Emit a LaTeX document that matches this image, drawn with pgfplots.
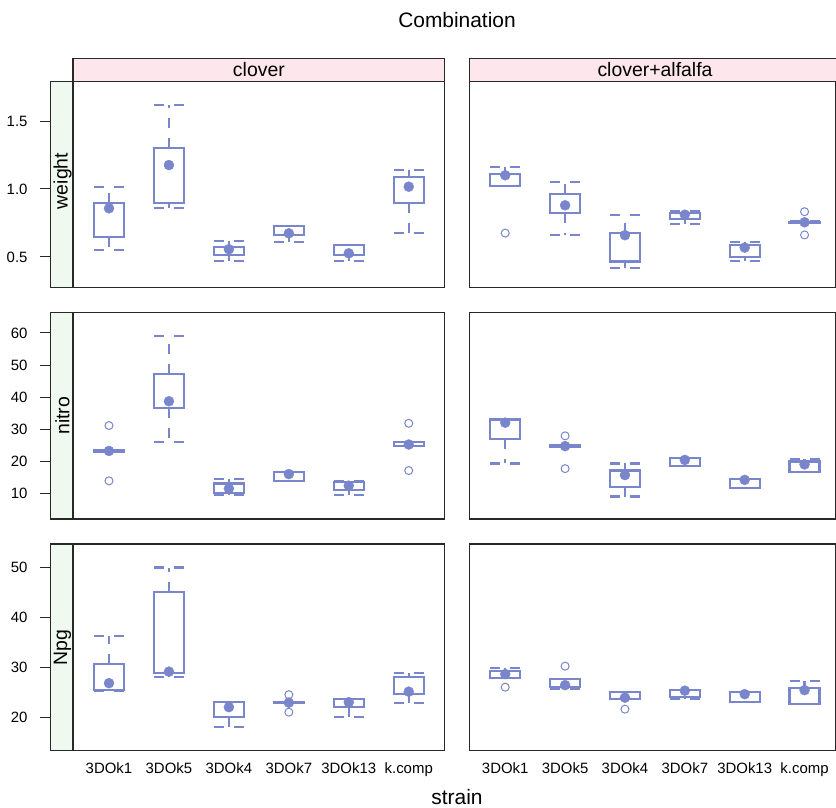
\documentclass[border=0pt]{standalone}
\usepackage{pgfplots}
\pgfplotsset{compat=1.18}
\usepgfplotslibrary{statistics}
\usepackage{fontspec}
\setmainfont{Liberation Sans}
\definecolor{bw}{RGB}{122,134,204}
\definecolor{stripP}{RGB}{253,230,236}
\definecolor{stripG}{RGB}{239,249,239}
\definecolor{frm}{RGB}{40,40,40}

\newcommand{\bx}[6]{\addplot[bw, line width=2.2bp, solid, boxplot prepared={draw direction=y, draw position=#1, lower whisker=#2, lower quartile=#3, median=#4, upper quartile=#5, upper whisker=#6, box extend=0.5, whisker extend=0.5}] coordinates {};}

\pgfplotsset{
  boxplot/draw/median/.code={},
  boxplot/draw/lower whisker/.code={%
    \draw[/pgfplots/boxplot/every whisker/.try]
      (boxplot box cs:\pgfplotsboxplotvalue{lower quartile},0.5) -- (boxplot box cs:\pgfplotsboxplotvalue{lower whisker},0.5);
    \draw[/pgfplots/boxplot/every whisker/.try]
      (boxplot whisker cs:\pgfplotsboxplotvalue{lower whisker},0) -- (boxplot whisker cs:\pgfplotsboxplotvalue{lower whisker},1);
  },
  boxplot/draw/upper whisker/.code={%
    \draw[/pgfplots/boxplot/every whisker/.try]
      (boxplot box cs:\pgfplotsboxplotvalue{upper quartile},0.5) -- (boxplot box cs:\pgfplotsboxplotvalue{upper whisker},0.5);
    \draw[/pgfplots/boxplot/every whisker/.try]
      (boxplot whisker cs:\pgfplotsboxplotvalue{upper whisker},0) -- (boxplot whisker cs:\pgfplotsboxplotvalue{upper whisker},1);
  },
  boxplot/every whisker/.style={bw, line width=2.2bp, dash pattern=on 10bp off 10bp},
  boxplot/every box/.style={bw, line width=2.2bp, solid},
  panel/.style={scale only axis, anchor=north west,
    axis line style={frm, line width=1.2bp},
    tick align=outside, major tick length=10.5bp,
    tick style={frm, line width=1bp},
    ticklabel style={font=\fontsize{15}{18}\selectfont},
    yticklabel style={xshift=-9bp},
    /pgf/number format/assume math mode=true,
    xtick=\empty, ytick pos=left},
  lp/.style={panel, width=394.2bp, xmin=0.0242, xmax=6.6},
  rp/.style={panel, width=366.2bp, xmin=0.4, xmax=6.517, ytick=\empty},
  med/.style={only marks, mark=*, mark size=5bp, bw, mark options={fill=bw, draw=bw}},
  outl/.style={only marks, mark=o, mark size=4bp, bw, mark options={line width=1bp}},
  bottomx/.style={xtick={1,2,3,4,5,6}, xticklabels={3DOk1,3DOk5,3DOk4,3DOk7,3DOk13,k.comp}, xtick style={draw=none}, xticklabel style={anchor=north, inner sep=0pt, yshift=-1bp}},
}

\begin{document}
\begin{tikzpicture}
% ---------- row 1: weight ----------
\begin{axis}[lp, at={(50.5bp,-81.3bp)}, height=206.4bp, ymin=0.274, ymax=1.792,
  ytick={0.5,1,1.5}, yticklabel style={/pgf/number format/.cd, fixed, fixed zerofill, precision=1}]
\bx{1}{0.549}{0.649}{0.858}{0.899}{1.017}
\bx{2}{0.860}{0.899}{1.176}{1.299}{1.620}
\bx{3}{0.468}{0.515}{0.557}{0.576}{0.620}
\bx{4}{0.608}{0.662}{0.674}{0.726}{0.728}
\bx{5}{0.468}{0.515}{0.527}{0.588}{0.590}
\bx{6}{0.679}{0.895}{1.017}{1.091}{1.140}
\addplot[med] coordinates {(1,0.858) (2,1.176) (3,0.557) (4,0.674) (5,0.527) (6,1.017)};
\end{axis}
\begin{axis}[rp, at={(469.3bp,-81.3bp)}, height=206.4bp, ymin=0.274, ymax=1.792]
\bx{1}{1.022}{1.022}{1.101}{1.110}{1.159}
\bx{2}{0.662}{0.826}{0.880}{0.961}{1.049}
\bx{3}{0.421}{0.466}{0.660}{0.679}{0.809}
\bx{4}{0.740}{0.777}{0.811}{0.826}{0.841}
\bx{5}{0.471}{0.502}{0.569}{0.588}{0.608}
\bx{6}{0.750}{0.752}{0.755}{0.760}{0.762}
\addplot[med] coordinates {(1,1.101) (2,0.880) (3,0.660) (4,0.811) (5,0.569) (6,0.755)};
\addplot[outl] coordinates {(1,0.676) (6,0.833) (6,0.662)};
\end{axis}
% ---------- row 2: nitro ----------
\begin{axis}[lp, at={(50.5bp,-312.7bp)}, height=206.3bp, ymin=2.13, ymax=66.3,
  ytick={10,20,30,40,50,60}]
\bx{1}{23.1}{23.1}{23.3}{23.7}{23.7}
\bx{2}{26.1}{36.7}{38.75}{47.3}{59.07}
\bx{3}{9.5}{10.1}{11.6}{13.2}{14.6}
\bx{4}{14.0}{14.0}{16.1}{16.8}{16.8}
\bx{5}{9.7}{11.2}{12.5}{13.7}{13.8}
\bx{6}{24.8}{24.8}{25.3}{26.1}{26.1}
\addplot[med] coordinates {(1,23.3) (2,38.75) (3,11.6) (4,16.1) (5,12.5) (6,25.3)};
\addplot[outl] coordinates {(1,31.2) (1,14.0) (6,31.9) (6,17.2)};
\end{axis}
\begin{axis}[rp, at={(469.3bp,-312.7bp)}, height=206.3bp, ymin=2.13, ymax=66.3]
\bx{1}{19.4}{27.0}{32.1}{33.1}{33.1}
\bx{2}{24.6}{24.6}{24.8}{25.1}{25.1}
\bx{3}{9.1}{12.2}{15.8}{17.2}{19.4}
\bx{4}{18.6}{18.6}{20.5}{21.2}{21.2}
\bx{5}{11.7}{11.7}{14.3}{14.5}{14.5}
\bx{6}{16.8}{16.8}{19.1}{20.0}{20.9}
\addplot[med] coordinates {(1,32.1) (2,24.8) (3,15.8) (4,20.5) (5,14.3) (6,19.1)};
\addplot[outl] coordinates {(2,28.0) (2,17.8)};
\end{axis}
% ---------- row 3: Npg ----------
\begin{axis}[lp, bottomx, at={(50.5bp,-544bp)}, height=206.7bp, ymin=13.4, ymax=54.7,
  ytick={20,30,40,50}]
\bx{1}{25.4}{25.5}{26.9}{30.7}{36.3}
\bx{2}{28.2}{28.9}{29.2}{45.1}{50.0}
\bx{3}{18.2}{20.1}{22.1}{23.2}{23.2}
\bx{4}{22.9}{22.9}{23.0}{23.2}{23.2}
\bx{5}{20.2}{22.2}{23.1}{23.7}{23.7}
\bx{6}{23.0}{24.7}{25.2}{28.1}{29.0}
\addplot[med] coordinates {(1,26.9) (2,29.2) (3,22.1) (4,23.0) (5,23.1) (6,25.2)};
\addplot[outl] coordinates {(4,24.6) (4,21.1)};
\end{axis}
\begin{axis}[rp, bottomx, at={(469.3bp,-544bp)}, height=206.7bp, ymin=13.4, ymax=54.7]
\bx{1}{28.0}{28.0}{28.7}{29.3}{30.0}
\bx{2}{25.7}{26.2}{26.5}{27.7}{27.7}
\bx{3}{23.8}{23.8}{24.0}{25.2}{25.2}
\bx{4}{23.8}{24.1}{25.4}{25.5}{25.5}
\bx{5}{23.1}{23.1}{24.7}{25.1}{25.1}
\bx{6}{22.7}{22.7}{25.5}{26.0}{27.3}
\addplot[med] coordinates {(1,28.7) (2,26.5) (3,24.0) (4,25.4) (5,24.7) (6,25.5)};
\addplot[outl] coordinates {(1,26.1) (2,30.3) (3,21.7)};
\end{axis}
% ---------- strips ----------
\begin{scope}[font=\fontsize{19.5}{22}\selectfont]
\draw[frm, line width=1.2bp, fill=stripP] (73bp,-58.7bp) rectangle (444.7bp,-81.3bp);
\draw[frm, line width=1.2bp, fill=stripP] (469.3bp,-58.7bp) rectangle (841bp,-81.3bp);
\node at (258.9bp,-70bp) {clover};
\node at (655bp,-70bp) {clover+alfalfa};
\draw[frm, line width=1.2bp, fill=stripG] (50.5bp,-81.3bp) rectangle (73bp,-287.7bp);
\draw[frm, line width=1.2bp, fill=stripG] (50.5bp,-312.7bp) rectangle (73bp,-519bp);
\draw[frm, line width=1.2bp, fill=stripG] (50.5bp,-544bp) rectangle (73bp,-750.7bp);
\node[rotate=90] at (62.5bp,-181bp) {weight};
\node[rotate=90] at (62.5bp,-415.85bp) {nitro};
\node[rotate=90] at (62.5bp,-647.35bp) {Npg};
\end{scope}
\node[font=\fontsize{21}{24}\selectfont] at (457bp,-20bp) {Combination};
\node[font=\fontsize{21}{24}\selectfont, inner sep=0pt, anchor=base] at (457bp,-804bp) {strain};
\pgfresetboundingbox
\path[use as bounding box] (0,0) rectangle (836bp,-808bp);
\end{tikzpicture}
\end{document}
